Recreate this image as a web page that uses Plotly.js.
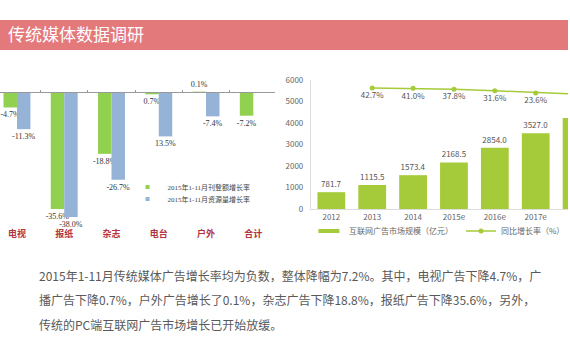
<!DOCTYPE html>
<html><head><meta charset="utf-8">
<script src="https://cdn.plot.ly/plotly-3.0.1.min.js"></script>
<style>html,body{margin:0;padding:0;background:#fff;}#chart{width:570px;height:360px;}</style>
</head><body><div id="chart"></div>
<script>
// ---- Left chart data (traditional media, 2015 Jan-Nov growth) ----
const mediaCategories = ['电视','报纸','杂志','电台','户外','合计'];
const adSpendGrowth   = [-4.7, -35.6, -18.8, -0.7, 0.1, -7.2];
const adSpendLabels   = ['-4.7%','-35.6%','-18.8%','0.7%','0.1%','-7.2%'];
const resourceGrowth  = [-11.3, -38.0, -26.7, -13.5, -7.4, null];
const resourceLabels  = ['-11.3%','-38.0%','-26.7%','13.5%','-7.4%',''];
const adSpendName  = '2015年1-11月刊登额增长率';
const resourceName = '2015年1-11月资源量增长率';

// ---- Right chart data (internet ad market) ----
const years        = ['2012','2013','2014','2015e','2016e','2017e','2018e'];
const marketSize   = [781.7, 1115.5, 1573.4, 2168.5, 2854.0, 3527.0, 4230];
const marketLabels = ['781.7','1115.5','1573.4','2168.5','2854.0','3527.0',''];
const yoyGrowth    = [null, 42.7, 41.0, 37.8, 31.6, 23.6, 19.0];
const yoyLabels    = ['', '42.7%', '41.0%', '37.8%', '31.6%', '23.6%', ''];
const marketName = '互联网广告市场规模（亿元）';
const growthName = '同比增长率（%）';

const paragraph = [
  '2015年1-11月传统媒体广告增长率均为负数，整体降幅为7.2%。其中，电视广告下降4.7%，广',
  '播广告下降0.7%，户外广告增长了0.1%，杂志广告下降18.8%，报纸广告下降35.6%，另外，',
  '传统的PC端互联网广告市场增长已开始放缓。'
];

const W = 570, H = 360;
const px = v => v / W;
const py = v => 1 - v / H;
const CJK = '"Noto Sans CJK SC", "Noto Sans", sans-serif';
const SERIF = '"Liberation Serif", "Noto Sans CJK SC", serif';
const GREEN = '#92d050', BLUE = '#95b3d7', LIME = '#a6cb3a';

const traces = [
  {type:'bar', x: mediaCategories, y: adSpendGrowth, name: adSpendName, showlegend:false,
   xaxis:'x', yaxis:'y', marker:{color:GREEN}, width:0.285, offset:-0.285,
   text: adSpendLabels, textposition:'outside', constraintext:'none', cliponaxis:false,
   textfont:{family:SERIF, size:8, color:'#333'}},
  {type:'bar', x: mediaCategories, y: resourceGrowth, name: resourceName, showlegend:false,
   xaxis:'x', yaxis:'y', marker:{color:BLUE}, width:0.285, offset:0,
   text: resourceLabels, textposition:'outside', constraintext:'none', cliponaxis:false,
   textfont:{family:SERIF, size:8, color:'#333'}},
  {type:'bar', x: years, y: marketSize, name: marketName, showlegend:false,
   xaxis:'x2', yaxis:'y2', marker:{color:LIME}, width:0.68,
   text: marketLabels, textposition:'outside', constraintext:'none',
   textfont:{family:CJK, size:8, color:'#555'}},
  {type:'scatter', mode:'lines+markers+text', x: years, y: yoyGrowth, name: growthName,
   xaxis:'x2', yaxis:'y3', line:{color:LIME, width:1.5}, marker:{color:LIME, size:5},
   text: yoyLabels, textposition:'bottom center', connectgaps:false,
   textfont:{family:CJK, size:8, color:'#555'}, legend:'legend4'},
  // legend-only entries (styled swatches)
  {type:'scatter', mode:'markers', x:[null], y:[null], xaxis:'x', yaxis:'y', name: adSpendName,
   marker:{symbol:'square', size:4, color:GREEN}, legend:'legend'},
  {type:'scatter', mode:'markers', x:[null], y:[null], xaxis:'x', yaxis:'y', name: resourceName,
   marker:{symbol:'square', size:4, color:BLUE}, legend:'legend3'},
  {type:'scatter', mode:'markers', x:[null], y:[null], xaxis:'x2', yaxis:'y2', name: marketName,
   marker:{symbol:'line-ew', size:15, color:LIME, line:{color:LIME, width:4}}, legend:'legend2'}
];

const legendBase = (xPix, yPix, font) => ({x:px(xPix), y:py(yPix), xref:'paper', yref:'paper',
  xanchor:'left', yanchor:'middle', bgcolor:'rgba(0,0,0,0)', borderwidth:0, itemwidth:30, font});

const layout = {
  width: W, height: H, margin:{l:0,r:0,t:0,b:0},
  paper_bgcolor:'#fff', plot_bgcolor:'rgba(0,0,0,0)',
  barmode:'group',
  title:{text:'传统媒体数据调研', x:px(8), xanchor:'left', y:py(35), yanchor:'middle',
         font:{family:CJK, size:17, color:'#ffffff'}},
  shapes:[{type:'rect', xref:'paper', yref:'paper', x0:0, x1:1, y0:py(50), y1:py(20),
           fillcolor:'#e4797c', line:{width:0}, layer:'below'}],
  xaxis:{domain:[0, px(276)], range:[-0.359, 5.46], type:'category',
         anchor:'free', position:py(92), showline:true, linecolor:'#999', linewidth:1,
         ticks:'inside', ticklen:2, tickcolor:'#999', tickson:'boundaries',
         showgrid:false, zeroline:false, ticklabelstandoff:133,
         tickfont:{family:CJK, size:9, color:'#b2333f', weight:'bold'}},
  yaxis:{domain:[py(230), py(70)], range:[-41.95, 6.69], visible:false, anchor:'x'},
  xaxis2:{domain:[px(312), 1], range:[-0.5, 5.79], type:'category', anchor:'y2',
          showline:true, linecolor:'#ddd', ticks:'', showgrid:false, zeroline:false,
          tickfont:{family:CJK, size:8, color:'#666'}},
  yaxis2:{domain:[py(209), py(80)], range:[0, 6000], dtick:1000, anchor:'x2',
          showline:true, linecolor:'#ddd', ticks:'', showgrid:false, zeroline:false,
          ticklabelstandoff:5, tickfont:{family:CJK, size:8, color:'#666'}},
  yaxis3:{overlaying:'y2', range:[-420, 73], visible:false, anchor:'x2'},
  legend:  legendBase(128, 187, {family:SERIF, size:7, color:'#444'}),
  legend3: legendBase(128, 199, {family:SERIF, size:7, color:'#444'}),
  legend2: legendBase(310, 231, {family:CJK, size:8, color:'#666'}),
  legend4: legendBase(463, 231, {family:CJK, size:8, color:'#666'}),
  annotations: paragraph.map((t,i)=>({text:t, xref:'paper', yref:'paper', x:px(37),
      y:py(275 + i*24.5), xanchor:'left', yanchor:'middle', showarrow:false,
      font:{family:CJK, size:12, color:'#595959'}}))
};

Plotly.newPlot('chart', traces, layout, {displayModeBar:false, staticPlot:true});
</script></body></html>
